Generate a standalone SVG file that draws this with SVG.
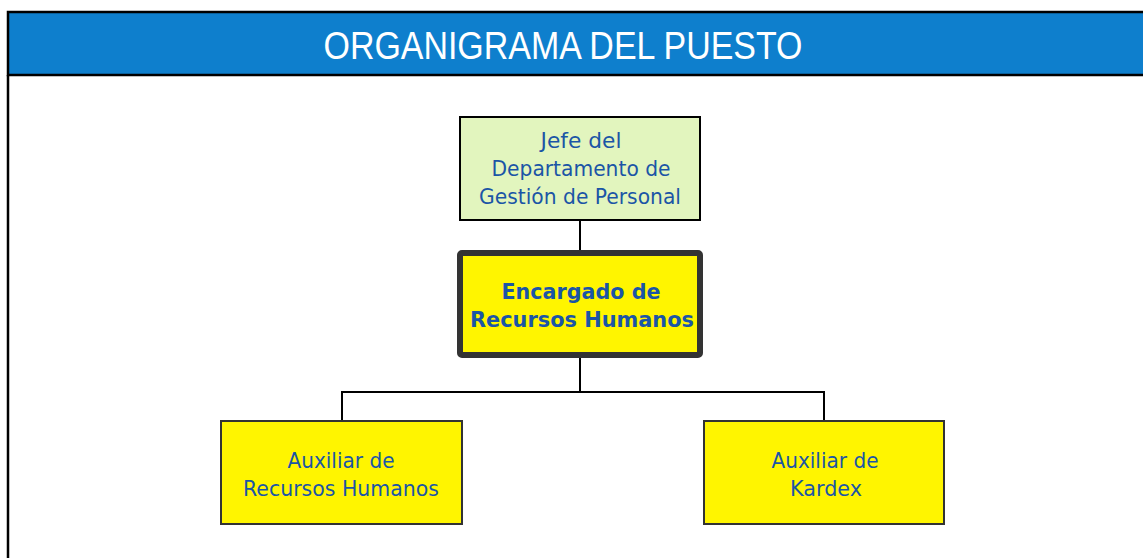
<svg xmlns="http://www.w3.org/2000/svg" width="1143" height="558" viewBox="0 0 1143 558">
<style>
.t{font-family:"DejaVu Sans",Verdana,sans-serif;font-size:22px;fill:#1B55A6;text-anchor:middle}
.b{font-weight:bold;font-size:22px}
.box{stroke:#333;stroke-width:2}
.con{fill:none;stroke:#000;stroke-width:2}
</style>
<rect x="0" y="0" width="1143" height="558" fill="#fff"/>
<g id="header">
<rect x="8" y="12" width="1140" height="63" fill="#0E7FCD" stroke="#000" stroke-width="2.5"/>
<line x1="8" y1="75" x2="8" y2="560" stroke="#000" stroke-width="2.5"/>
<text x="563" y="59" font-family="Liberation Sans,Arial,sans-serif" font-size="39" fill="#fff" text-anchor="middle" textLength="479" lengthAdjust="spacingAndGlyphs">ORGANIGRAMA DEL PUESTO</text>
</g>
<g id="connectors">
<line class="con" x1="580" y1="220" x2="580" y2="252"/>
<polyline class="con" points="342,421 342,392 824,392 824,421"/>
<line class="con" x1="580" y1="356" x2="580" y2="392"/>
</g>
<g id="jefe">
<rect x="460" y="117" width="240" height="103" fill="#E2F5BE" stroke="#000" stroke-width="2"/>
<text class="t" x="581" y="148" textLength="81" lengthAdjust="spacingAndGlyphs">Jefe del</text>
<text class="t" x="581" y="176" textLength="179" lengthAdjust="spacingAndGlyphs">Departamento de</text>
<text class="t" x="580" y="204" textLength="202" lengthAdjust="spacingAndGlyphs">Gestión de Personal</text>
</g>
<g id="encargado">
<rect x="460" y="253" width="240" height="102" fill="#FFF500" stroke="#333" stroke-width="6" rx="2"/>
<text class="t b" x="581" y="299" textLength="159" lengthAdjust="spacingAndGlyphs">Encargado de</text>
<text class="t b" x="582" y="327" textLength="224" lengthAdjust="spacingAndGlyphs">Recursos Humanos</text>
</g>
<g id="aux-rrhh">
<rect class="box" x="221" y="421" width="241" height="103" fill="#FFF500"/>
<text class="t" x="341" y="468" textLength="107" lengthAdjust="spacingAndGlyphs">Auxiliar de</text>
<text class="t" x="341" y="496" textLength="196" lengthAdjust="spacingAndGlyphs">Recursos Humanos</text>
</g>
<g id="aux-kardex">
<rect class="box" x="704" y="421" width="240" height="103" fill="#FFF500"/>
<text class="t" x="825" y="468" textLength="107" lengthAdjust="spacingAndGlyphs">Auxiliar de</text>
<text class="t" x="826" y="496" textLength="72" lengthAdjust="spacingAndGlyphs">Kardex</text>
</g>
</svg>
